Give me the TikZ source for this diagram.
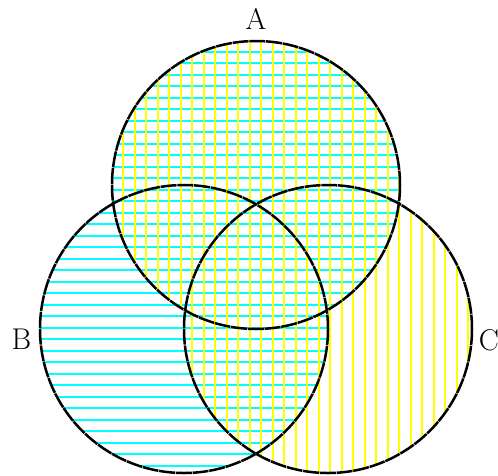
\documentclass[tikz,border=0pt]{standalone}
\definecolor{hcyan}{RGB}{0,255,255}
\definecolor{vyellow}{RGB}{255,255,0}
\begin{document}
\begin{tikzpicture}[x=1pt,y=-1pt,
  setcircle/.style={draw=black, line width=2.5pt, dash pattern=on 16pt off 0.8pt},
  hline/.style={hcyan, line width=2.2pt},
  vline/.style={vyellow, line width=2.2pt},
  lbl/.style={font=\fontsize{30}{36}\selectfont, inner sep=0pt}]
\useasboundingbox (0,0) rectangle (498,475);
\coordinate (A) at (256,185);
\coordinate (B) at (184,329);
\coordinate (C) at (328,329);
% A union B : horizontal cyan lines
\begin{scope}
  \clip (A) circle[radius=144] (B) circle[radius=144];
  \foreach \k in {0,...,37}
    \draw[hline] (30,{40.2+11.5*\k}) -- (480,{40.2+11.5*\k});
\end{scope}
% A union C : vertical yellow lines
\begin{scope}
  \clip (A) circle[radius=144] (C) circle[radius=144];
  \foreach \k in {0,...,31}
    \draw[vline] ({111.8+11.5*\k},30) -- ({111.8+11.5*\k},475);
\end{scope}
\draw[setcircle] (A) circle[radius=144];
\draw[setcircle] (B) circle[radius=144];
\draw[setcircle] (C) circle[radius=144];
\node[lbl] (la) at (256,19) {A};
\node[lbl] (lb) at (21.5,339) {B};
\node[lbl] (lc) at (489,340) {C};
\end{tikzpicture}
\end{document}
